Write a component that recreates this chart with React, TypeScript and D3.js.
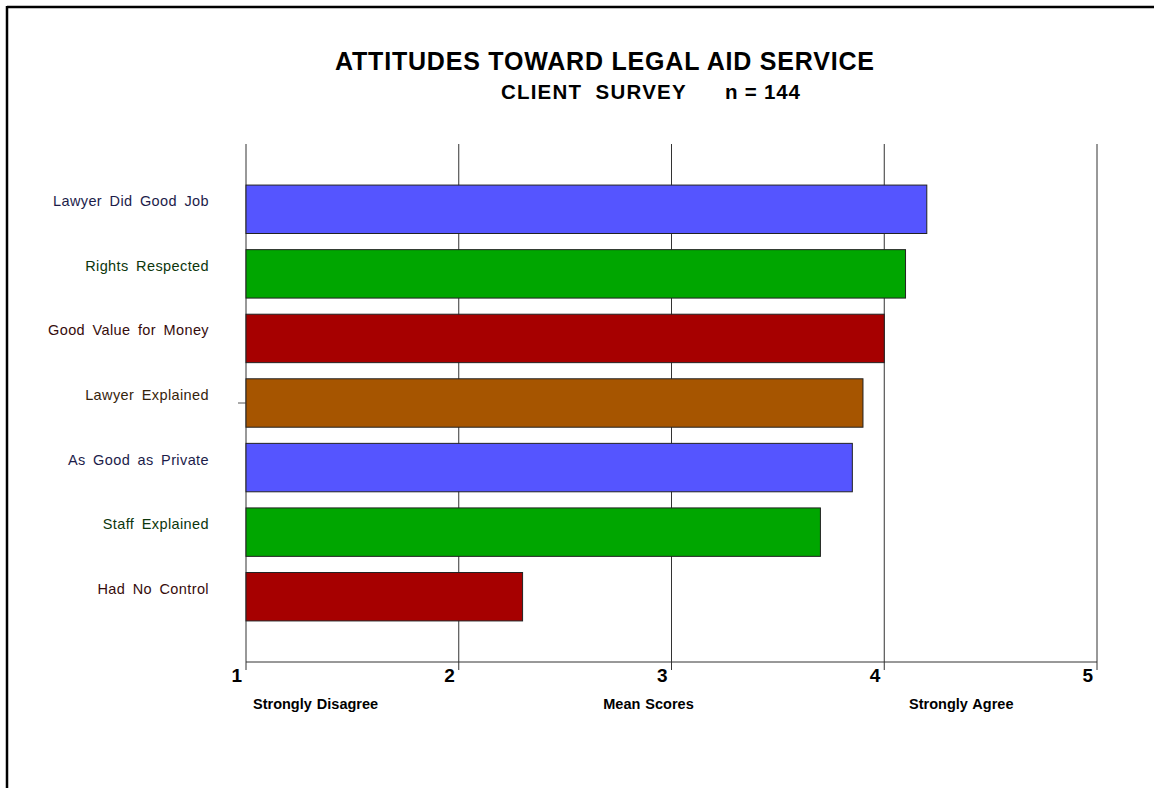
import React from "react";
import * as d3 from "d3";

const categories = [
  "Lawyer Did Good Job",
  "Rights Respected",
  "Good Value for Money",
  "Lawyer Explained",
  "As Good as Private",
  "Staff Explained",
  "Had No Control",
];
const meanScores = [4.2, 4.1, 4.0, 3.9, 3.85, 3.7, 2.3];
const barColors = ["#5555ff", "#00a600", "#a60000", "#a65500", "#5555ff", "#00a600", "#a60000"];
const labelColors = ["#1c1c4a", "#0c360c", "#360c0c", "#36240c", "#1c1c4a", "#0c360c", "#360c0c"];
const tickValues = [1, 2, 3, 4, 5];
const scaleNotes = [
  { value: 1, text: "Strongly Disagree", anchor: "start" },
  { value: 3, text: "Mean Scores", anchor: "middle" },
  { value: 4, text: "Strongly Agree", anchor: "middle" },
];
const title = "ATTITUDES TOWARD LEGAL AID SERVICE";
const subtitleLeft = "CLIENT SURVEY";
const subtitleRight = "n = 144";

const W = 1154;
const H = 788;
const FONT = "'Liberation Sans', Arial, Helvetica, sans-serif";

export default function App() {
  const x = d3.scaleLinear().domain([1, 5]).range([246, 1097]);
  const y = d3
    .scaleBand<string>()
    .domain(categories)
    .range([177, 629])
    .paddingInner(0.25)
    .paddingOuter(0.125);
  const top = 144;
  const axisY = 662;
  const noteOffsets = [7, -23, 77];

  return (
    <svg
      width={W}
      height={H}
      style={{ position: "absolute", left: 0, top: 0, background: "#fff" }}
      fontFamily={FONT}
    >
      <rect x={0} y={0} width={W} height={H} fill="#fff" />
      {/* frame */}
      <line x1={7} y1={7} x2={W} y2={7} stroke="#000" strokeWidth={2.5} />
      <line x1={7} y1={6} x2={7} y2={H} stroke="#000" strokeWidth={2.5} />

      {/* titles */}
      <text x={335} y={70} textAnchor="start" fontSize={25} fontWeight="bold" fill="#000" letterSpacing={0.8}>
        {title}
      </text>
      <text x={501} y={99} textAnchor="start" fontSize={20.5} fontWeight="bold" fill="#000" letterSpacing={1.2} wordSpacing={6.5}>
        {subtitleLeft}
      </text>
      <text x={725} y={99} textAnchor="start" fontSize={20.5} fontWeight="bold" fill="#000" letterSpacing={0.8}>
        {subtitleRight}
      </text>

      {/* grid lines */}
      {tickValues.map((t) => (
        <line key={"g" + t} x1={x(t)} x2={x(t)} y1={top} y2={axisY + 8} stroke="#333" strokeWidth={1} />
      ))}
      {/* axis baseline */}
      <line x1={x(1)} x2={x(5)} y1={axisY} y2={axisY} stroke="#333" strokeWidth={1} />
      {/* center y tick */}
      <line x1={x(1) - 8} x2={x(1)} y1={(top + axisY) / 2} y2={(top + axisY) / 2} stroke="#555" strokeWidth={1} />

      {/* bars */}
      {categories.map((c, i) => (
        <rect
          key={c}
          x={x(1)}
          y={y(c)}
          width={x(meanScores[i]) - x(1)}
          height={y.bandwidth()}
          fill={barColors[i]}
          stroke="#222"
          strokeWidth={1}
        />
      ))}

      {/* category labels */}
      {categories.map((c, i) => (
        <text
          key={"l" + c}
          x={209}
          y={(y(c) as number) + y.bandwidth() / 2 - 3}
          textAnchor="end"
          fontSize={14.5}
          fill={labelColors[i]}
          letterSpacing={0.4}
          wordSpacing={3}
        >
          {c}
        </text>
      ))}

      {/* tick labels */}
      {tickValues.map((t) => (
        <text key={"t" + t} x={x(t) - 4} y={682} textAnchor="end" fontSize={19} fontWeight="bold" fill="#000">
          {t}
        </text>
      ))}

      {/* scale notes */}
      {scaleNotes.map((n, i) => (
        <text
          key={"n" + i}
          x={x(n.value) + noteOffsets[i]}
          y={709}
          textAnchor={n.anchor as any}
          fontSize={14.5}
          fontWeight="bold"
          fill="#000"
          wordSpacing={1}
        >
          {n.text}
        </text>
      ))}
    </svg>
  );
}
